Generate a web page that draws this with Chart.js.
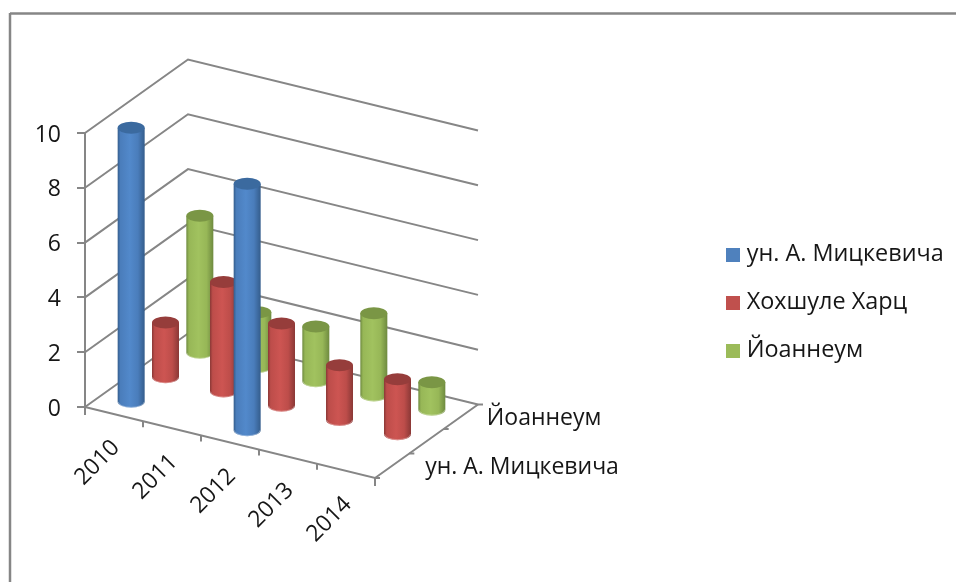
<!DOCTYPE html>
<html>
<head>
<meta charset="utf-8">
<script src="https://cdn.jsdelivr.net/npm/chart.js@4"></script>
<style>
    html, body { margin: 0; padding: 0; background: #fff; }
    canvas { display: block; filter: blur(0.4px); }
</style>
</head>
<body>
<canvas id="chart" width="956" height="582"></canvas>
<script>
// data
const years = ['2010', '2011', '2012', '2013', '2014'];
const seriesNames = ['ун. А. Мицкевича', 'Хохшуле Харц', 'Йоаннеум'];
const depthLabels = ['ун. А. Мицкевича', '', 'Йоаннеум'];
const mickiewiczValues = [10, null, 9, null, null];
const harzValues = [2, 4, 3, 2, 2];
const joanneumValues = [5, 2, 2, 3, 1];

// colours: base, light, dark, cap
const blue = ['#4a7dbb', '#5289cb', '#345d8c', '#3b6a9f'];
const red = ['#bd4d4a', '#cd5552', '#8a3836', '#963d3b'];
const green = ['#97b757', '#a1c25f', '#6e8a3f', '#7a9645'];

const FONT = '"Open Sans", sans-serif';
const TEXT_COLOR = '#161616';
const LINE_COLOR = '#868686';

// oblique projection of the floor, in px across the whole axis
const floorRun = { x: 290, y: 71 };
const depthRun = { x: 103, y: -73.5 };

// scale value -> page position (category, series, value)
function project(chart, cat, depth, value) {
    const { x, y, z } = chart.scales;
    const a = (x.getPixelForValue(cat) - x.left) / x.width;
    const b = (z.getPixelForValue(depth) - z.left) / z.width;
    return {
        x: x.left + a * floorRun.x + b * depthRun.x,
        y: y.getPixelForValue(value) + a * floorRun.y + b * depthRun.y
    };
}

// bars as cylinders, back series painted first (chart.js draws last dataset first)
class CylinderController extends Chart.BarController {
    draw() {
        const chart = this.chart;
        const ctx = chart.ctx;
        const colors = this.getDataset().colors;
        const depth = this.index;
        const rx = 13.5, ry = 6;

        this.getDataset().data.forEach((value, i) => {
            if (value === null) return;
            const bottom = project(chart, i, depth, 0);
            const top = project(chart, i, depth, value);

            const grad = ctx.createLinearGradient(bottom.x - rx, 0, bottom.x + rx, 0);
            grad.addColorStop(0, colors[2]);
            grad.addColorStop(0.1, colors[0]);
            grad.addColorStop(0.45, colors[1]);
            grad.addColorStop(0.75, colors[0]);
            grad.addColorStop(1, colors[2]);

            ctx.save();
            ctx.beginPath();
            ctx.moveTo(bottom.x - rx, top.y);
            ctx.lineTo(bottom.x - rx, bottom.y);
            ctx.ellipse(bottom.x, bottom.y, rx, ry, 0, Math.PI, 0, true);
            ctx.lineTo(bottom.x + rx, top.y);
            ctx.closePath();
            ctx.fillStyle = grad;
            ctx.fill();

            // light rim under the base
            ctx.beginPath();
            ctx.ellipse(bottom.x, bottom.y, rx - 0.5, ry - 0.5, 0, Math.PI, 0, true);
            ctx.strokeStyle = 'rgba(255,255,255,0.35)';
            ctx.lineWidth = 1;
            ctx.stroke();

            ctx.beginPath();
            ctx.ellipse(bottom.x, top.y, rx, ry, 0, 0, Math.PI * 2);
            ctx.fillStyle = colors[3];
            ctx.fill();
            ctx.restore();
        });
    }
}
CylinderController.id = 'cylinder';
Chart.register(CylinderController);

function line(ctx, x1, y1, x2, y2) {
    ctx.beginPath();
    ctx.moveTo(x1, y1);
    ctx.lineTo(x2, y2);
    ctx.stroke();
}

// 3d box behind the bars: frame, walls, floor, ticks and tick labels
const boxPlugin = {
    id: 'box',
    afterLayout(chart) {
        // legend sits clear of the plot
        const legend = chart.legend;
        const pad = legend.options.labels.padding;
        legend.left = 731 - pad;
        legend.right = 956;
        legend.top = 243 - pad;
        legend.bottom = 582;
    },
    beforeDatasetsDraw(chart) {
        const ctx = chart.ctx;
        const yScale = chart.scales.y;
        const catEnd = years.length - 0.5;
        const depthEnd = seriesNames.length - 0.5;

        ctx.save();
        // outer frame, top and left only
        ctx.strokeStyle = '#868686';
        ctx.lineWidth = 2.5;
        line(ctx, 956, 13.5, 10, 13.5);
        line(ctx, 10, 13, 10, 582);

        ctx.strokeStyle = LINE_COLOR;
        ctx.lineWidth = 2;

        // gridlines on both walls
        yScale.ticks.forEach(tick => {
            const a = project(chart, -0.5, -0.5, tick.value);
            const b = project(chart, -0.5, depthEnd, tick.value);
            const c = project(chart, catEnd, depthEnd, tick.value);
            ctx.beginPath();
            ctx.moveTo(a.x, a.y);
            ctx.lineTo(b.x, b.y);
            ctx.lineTo(c.x, c.y);
            ctx.stroke();
        });

        // floor front edges
        const o = project(chart, -0.5, -0.5, 0);
        const f = project(chart, catEnd, -0.5, 0);
        const r = project(chart, catEnd, depthEnd, 0);
        ctx.beginPath();
        ctx.moveTo(o.x, o.y);
        ctx.lineTo(f.x, f.y);
        ctx.lineTo(r.x, r.y);
        ctx.stroke();

        // category ticks and labels
        for (let k = -0.5; k <= catEnd; k++) {
            const p = project(chart, k, -0.5, 0);
            line(ctx, p.x, p.y, p.x, p.y + (k === catEnd || k === -0.5 ? 8 : 6));
        }
        ctx.fillStyle = TEXT_COLOR;
        ctx.font = '23px ' + FONT;
        ctx.textAlign = 'right';
        ctx.textBaseline = 'middle';
        years.forEach((year, i) => {
            const p = project(chart, i, -0.5, 0);
            ctx.save();
            ctx.translate(p.x + 2, p.y + 30);
            ctx.rotate(-Math.PI / 4);
            ctx.fillText(year, 0, 0);
            ctx.restore();
        });

        // depth ticks and labels
        for (let k = -0.5; k <= depthEnd; k++) {
            const p = project(chart, catEnd, k, 0);
            line(ctx, p.x, p.y, p.x + 5, p.y);
        }
        ctx.textAlign = 'left';
        const gaps = [33, 0, 26];
        depthLabels.forEach((label, s) => {
            const p = project(chart, catEnd, s, 0);
            ctx.fillText(label, p.x + gaps[s], p.y + 2);
        });
        ctx.restore();
    }
};

// small square used as legend swatch
function swatch(color) {
    const c = document.createElement('canvas');
    c.width = 14;
    c.height = 14;
    const g = c.getContext('2d');
    g.fillStyle = color;
    g.fillRect(0, 0, 14, 14);
    return c;
}

const chart = new Chart(document.getElementById('chart'), {
    type: 'cylinder',
    data: {
        labels: years,
        datasets: [
            { label: seriesNames[0], data: mickiewiczValues, backgroundColor: '#4f81bd', colors: blue, clip: false },
            { label: seriesNames[1], data: harzValues, backgroundColor: '#c0504d', colors: red, clip: false },
            { label: seriesNames[2], data: joanneumValues, backgroundColor: '#9bbb59', colors: green, clip: false }
        ]
    },
    options: {
        responsive: false,
        animation: false,
        layout: { padding: { top: 133, bottom: 175, left: 0, right: 0 } },
        scales: {
            x: { type: 'category', display: false, offset: true },
            z: { type: 'category', axis: 'x', position: 'bottom', display: false, offset: true, labels: depthLabels },
            y: {
                min: 0,
                max: 10,
                afterFit(scale) { scale.width = 85; },
                grid: { drawOnChartArea: false, color: LINE_COLOR, lineWidth: 2, tickLength: 8 },
                border: { color: LINE_COLOR, width: 2 },
                ticks: { stepSize: 2, padding: 16, labelOffset: 2, color: TEXT_COLOR, font: { family: FONT, size: 23 } }
            }
        },
        plugins: {
            tooltip: { enabled: false },
            legend: {
                position: 'right',
                align: 'start',
                labels: {
                    usePointStyle: true,
                    pointStyleWidth: 4,
                    padding: 24.6,
                    color: TEXT_COLOR,
                    font: { family: FONT, size: 23.4, lineHeight: 1 },
                    generateLabels(c) {
                        const items = Chart.defaults.plugins.legend.labels.generateLabels(c);
                        items.forEach(item => { item.pointStyle = swatch(item.fillStyle); });
                        return items;
                    }
                }
            }
        }
    },
    plugins: [boxPlugin]
});
</script>
</body>
</html>
